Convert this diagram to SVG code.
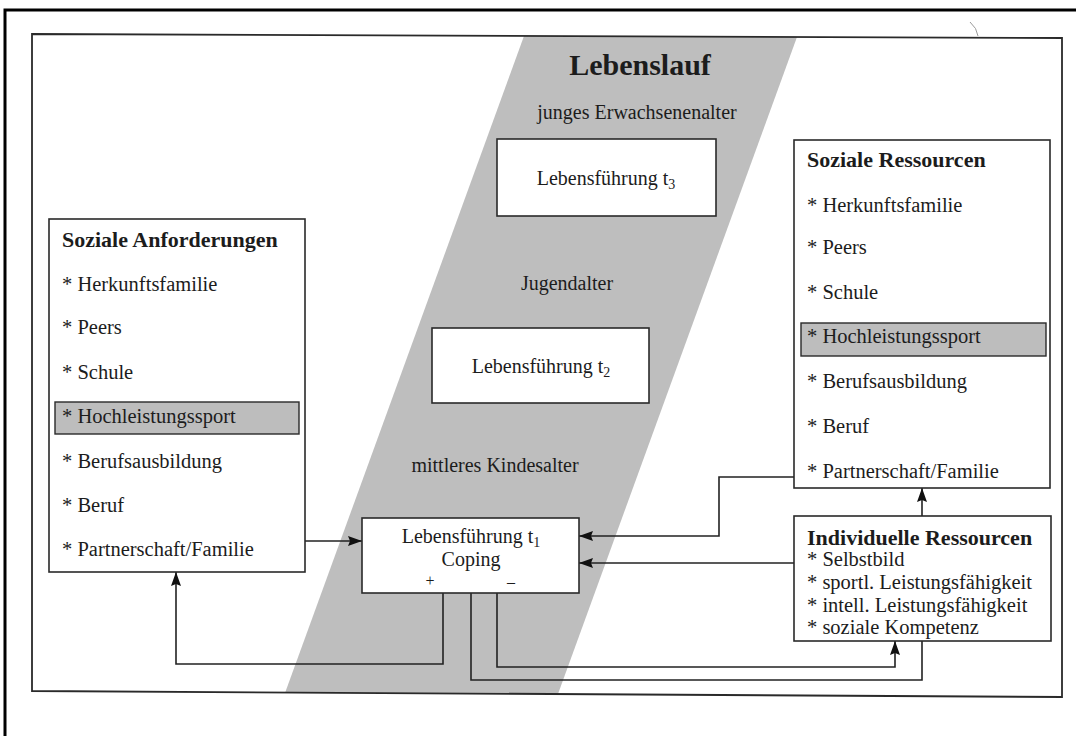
<svg xmlns="http://www.w3.org/2000/svg" width="1076" height="736" viewBox="0 0 1076 736">
  <style>
    text { font-family: "Liberation Serif", "Times New Roman", serif; fill: #1c1c1c; }
    .item { font-size: 20.5px; }
    .head { font-size: 22px; font-weight: bold; }
    .title { font-size: 30px; font-weight: bold; }
    .stage { font-size: 20px; text-anchor: middle; }
    .box { fill: #ffffff; stroke: #2a2a2a; stroke-width: 1.6; }
    .hl { fill: #bdbdbd; stroke: #2a2a2a; stroke-width: 1.4; }
    .frame { fill: none; stroke: #2a2a2a; stroke-width: 1.8; }
    .outer { fill: none; stroke: #000000; stroke-width: 3; }
    .wire { fill: none; stroke: #222222; stroke-width: 1.6; }
    .arrow { marker-end: url(#head); }
  </style>
  <defs>
    <marker id="head" markerUnits="userSpaceOnUse" markerWidth="16" markerHeight="12" refX="14" refY="5" orient="auto">
      <path d="M0,0 L14,5 L0,10 L2,5 z" fill="#111111"/>
    </marker>
  </defs>

  <rect width="1076" height="736" fill="#ffffff"/>

  <!-- page border (open to the right and bottom) -->
  <path class="outer" d="M5,736 V10 H1076"/>

  <!-- slanted life-course band -->
  <polygon points="524,36 797,37 558,694 285,693" fill="#bebebe"/>

  <!-- figure frame -->
  <polygon class="frame" points="32,34 1062,38 1062,697 32,691"/>

  <!-- small pen tick near the top edge -->
  <path d="M970,22 Q977,28 978,36" fill="none" stroke="#9a9a9a" stroke-width="1"/>

  <g id="band-labels">
    <text class="title" x="640" y="75" text-anchor="middle">Lebenslauf</text>
    <text class="stage" x="637" y="119">junges Erwachsenenalter</text>
    <text class="stage" x="567" y="290">Jugendalter</text>
    <text class="stage" x="495" y="472">mittleres Kindesalter</text>
  </g>

  <g id="connectors">
    <path class="wire arrow" d="M305,541 H362"/>
    <path class="wire arrow" d="M794,477 H719 V536 H579"/>
    <path class="wire arrow" d="M794,563 H579"/>
    <path class="wire arrow" d="M922,516 V488"/>
    <path class="wire arrow" d="M443,593 V664 H176 V572"/>
    <path class="wire arrow" d="M497,593 V667 H895 V641"/>
    <path class="wire" d="M471,593 V680 H922 V641"/>
  </g>

  <g id="lf-t3">
    <rect class="box" x="497" y="139" width="219" height="77"/>
    <text class="stage" x="606" y="185">Lebensführung t<tspan font-size="14" dy="4">3</tspan></text>
  </g>

  <g id="lf-t2">
    <rect class="box" x="432" y="328" width="217" height="75"/>
    <text class="stage" x="541" y="373">Lebensführung t<tspan font-size="14" dy="4">2</tspan></text>
  </g>

  <g id="lf-t1">
    <rect class="box" x="362" y="518" width="217" height="75"/>
    <text class="stage" x="471" y="543">Lebensführung t<tspan font-size="14" dy="4">1</tspan></text>
    <text class="stage" x="471" y="566">Coping</text>
    <text x="430" y="586" font-size="16" text-anchor="middle">+</text>
    <text x="511" y="587" font-size="16" text-anchor="middle">–</text>
  </g>

  <g id="soziale-anforderungen">
    <rect class="box" x="49" y="219" width="256" height="353"/>
    <rect class="hl" x="55" y="402" width="244" height="32"/>
    <text class="head" x="62" y="247">Soziale Anforderungen</text>
    <text class="item" x="62" y="291">* Herkunftsfamilie</text>
    <text class="item" x="62" y="334">* Peers</text>
    <text class="item" x="62" y="379">* Schule</text>
    <text class="item" x="62" y="423">* Hochleistungssport</text>
    <text class="item" x="62" y="468">* Berufsausbildung</text>
    <text class="item" x="62" y="512">* Beruf</text>
    <text class="item" x="62" y="556">* Partnerschaft/Familie</text>
  </g>

  <g id="soziale-ressourcen">
    <rect class="box" x="794" y="140" width="256" height="348"/>
    <rect class="hl" x="801" y="323" width="245" height="33"/>
    <text class="head" x="807" y="167">Soziale Ressourcen</text>
    <text class="item" x="807" y="212">* Herkunftsfamilie</text>
    <text class="item" x="807" y="254">* Peers</text>
    <text class="item" x="807" y="299">* Schule</text>
    <text class="item" x="807" y="343">* Hochleistungssport</text>
    <text class="item" x="807" y="388">* Berufsausbildung</text>
    <text class="item" x="807" y="433">* Beruf</text>
    <text class="item" x="807" y="478">* Partnerschaft/Familie</text>
  </g>

  <g id="individuelle-ressourcen">
    <rect class="box" x="794" y="516" width="257" height="125"/>
    <text class="head" x="807" y="545">Individuelle Ressourcen</text>
    <text class="item" x="807" y="566">* Selbstbild</text>
    <text class="item" x="807" y="589">* sportl. Leistungsfähigkeit</text>
    <text class="item" x="807" y="612">* intell. Leistungsfähigkeit</text>
    <text class="item" x="807" y="634">* soziale Kompetenz</text>
  </g>
</svg>
